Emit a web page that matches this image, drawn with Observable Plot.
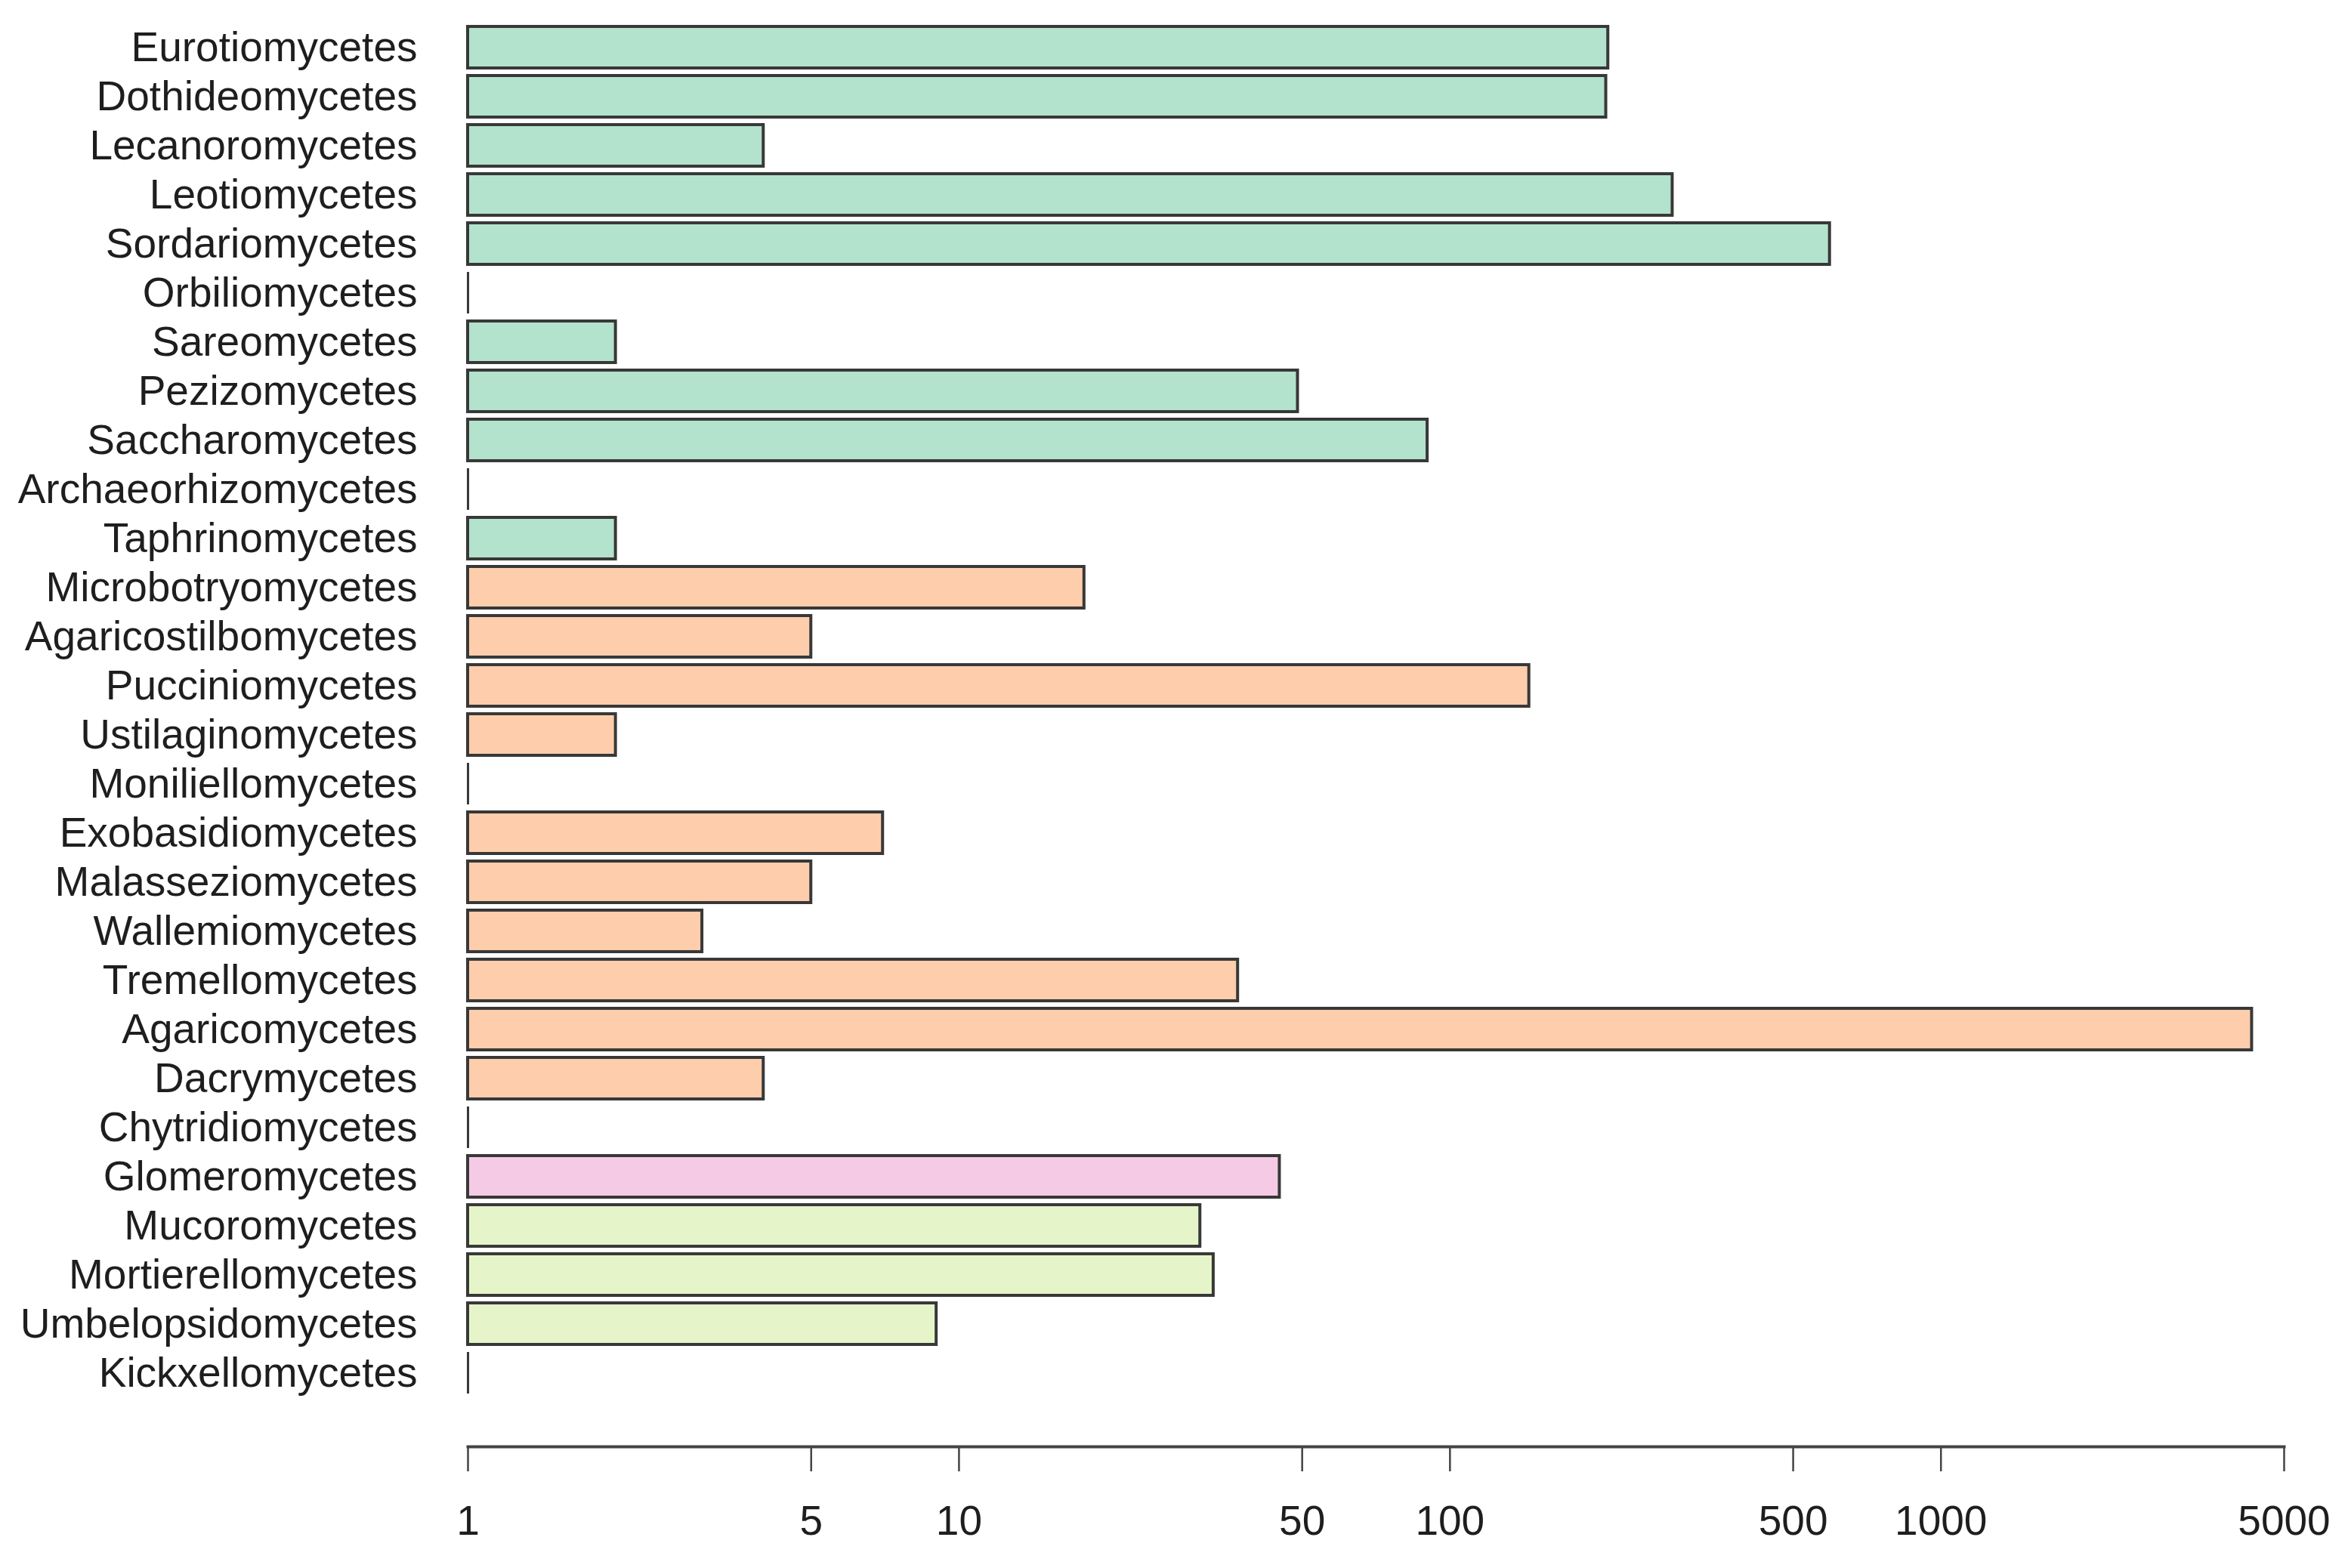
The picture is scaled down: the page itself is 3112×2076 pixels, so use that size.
<!DOCTYPE html>
<html>
<head>
<meta charset="utf-8">
<script src="https://cdn.jsdelivr.net/npm/d3@7"></script>
<script src="https://cdn.jsdelivr.net/npm/@observablehq/plot@0.6"></script>
<style>
  html, body { margin: 0; padding: 0; background: #fff; }
</style>
</head>
<body>
<div id="chart"></div>
<script>
const categories = [
  "Eurotiomycetes","Dothideomycetes","Lecanoromycetes","Leotiomycetes","Sordariomycetes",
  "Orbiliomycetes","Sareomycetes","Pezizomycetes","Saccharomycetes","Archaeorhizomycetes",
  "Taphrinomycetes","Microbotryomycetes","Agaricostilbomycetes","Pucciniomycetes",
  "Ustilaginomycetes","Moniliellomycetes","Exobasidiomycetes","Malasseziomycetes",
  "Wallemiomycetes","Tremellomycetes","Agaricomycetes","Dacrymycetes","Chytridiomycetes",
  "Glomeromycetes","Mucoromycetes","Mortierellomycetes","Umbelopsidomycetes","Kickxellomycetes"
];
const values = [
  210, 208, 4, 284, 594,
  1, 2, 49, 90, 1,
  2, 18, 5, 145,
  2, 1, 7, 5,
  3, 37, 4300, 4, 1,
  45, 31, 33, 9, 1
];
const groups = [
  "Ascomycota","Ascomycota","Ascomycota","Ascomycota","Ascomycota",
  "Ascomycota","Ascomycota","Ascomycota","Ascomycota","Ascomycota",
  "Ascomycota","Basidiomycota","Basidiomycota","Basidiomycota",
  "Basidiomycota","Basidiomycota","Basidiomycota","Basidiomycota",
  "Basidiomycota","Basidiomycota","Basidiomycota","Basidiomycota","Chytridiomycota",
  "Glomeromycota","Mucoromycota","Mucoromycota","Mucoromycota","Zoopagomycota"
];
const groupNames = ["Ascomycota","Basidiomycota","Chytridiomycota","Glomeromycota","Mucoromycota","Zoopagomycota"];
const groupColors = ["#b3e2cd","#fdcdac","#cbd5e8","#f4cae4","#e6f5c9","#fff2ae"];
const xTicks = [1, 5, 10, 50, 100, 500, 1000, 5000];

const data = categories.map((name, i) => ({name, value: values[i], group: groups[i]}));

const chart = Plot.plot({
  width: 3112,
  height: 2076,
  marginLeft: 619,
  marginRight: 89,
  marginTop: 24,
  marginBottom: 161,
  style: {fontFamily: "'Liberation Sans', Arial, sans-serif", fontSize: "55px", color: "#1e1e1e", background: "#fff"},
  x: {type: "log", domain: [1, 5000], label: null},
  y: {domain: categories, padding: 0.15, insetBottom: 58, label: null},
  color: {domain: groupNames, range: groupColors},
  marks: [
    Plot.barX(data, {x1: 1, x2: "value", y: "name", fill: "group", stroke: "#383838", strokeWidth: 4}),
    Plot.tickX(data.filter(d => d.value === 1), {x: "value", y: "name", stroke: "#383838", strokeWidth: 3}),
    Plot.frame({anchor: "bottom", stroke: "#444", strokeWidth: 4}),
    Plot.axisX({ticks: xTicks, tickSize: 33, text: null, strokeWidth: 2.5, stroke: "#444", label: null}),
    Plot.text(xTicks, {x: d => d, text: d => String(d), frameAnchor: "bottom", lineAnchor: "top", dy: 77, fontSize: 55, fill: "#1e1e1e"}),
    Plot.axisY({tickSize: 0, tickPadding: 67, fontSize: 55, label: null})
  ]
});
document.getElementById("chart").appendChild(chart);
</script>
</body>
</html>
